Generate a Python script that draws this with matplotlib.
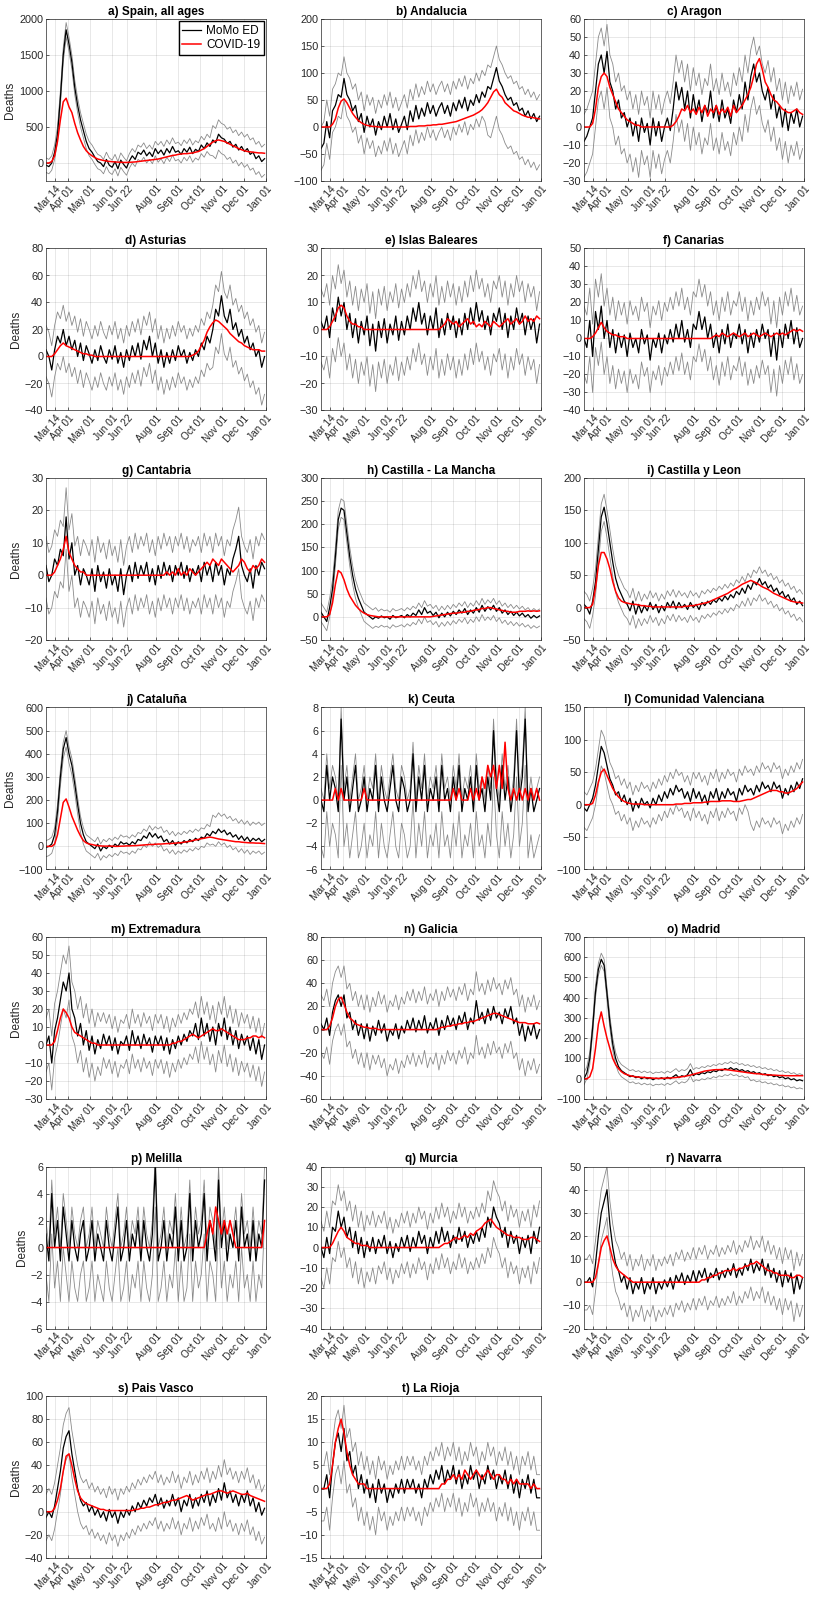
import numpy as np
import matplotlib
matplotlib.use("Agg")
import matplotlib.pyplot as plt

plt.rcParams['font.family'] = ['Liberation Sans', 'DejaVu Sans']

# daily series sampled every 4 days, starting 2020-03-01
start = np.datetime64('2020-03-01')
step_days = 4

tick_dates = np.array(['2020-03-14', '2020-04-01', '2020-05-01', '2020-06-01', '2020-06-22',
                       '2020-08-01', '2020-09-01', '2020-10-01', '2020-11-01', '2020-12-01',
                       '2021-01-01'], dtype='datetime64[D]')
tick_labels = ['Mar 14', 'Apr 01', 'May 01', 'Jun 01', 'Jun 22', 'Aug 01', 'Sep 01',
               'Oct 01', 'Nov 01', 'Dec 01', 'Jan 01']

# a) Spain
spain_ed = [-30, -50, 0, 150, 400, 900, 1500, 1850, 1650, 1400, 1050,
            800, 600, 450, 300, 200, 150, 80, 20, 0, -50, 50,
            -30, -60, 20, -80, 40, -20, -70, 30, 100, 50, 150,
            120, 180, 100, 150, 90, 200, 130, 180, 110, 200,
            140, 230, 150, 170, 120, 200, 150, 220, 130, 190,
            160, 250, 200, 280, 230, 320, 280, 400, 350, 330,
            270, 300, 220, 260, 180, 230, 160, 200, 120, 150,
            60, 100, 20, 60]
spain_covid = [0, 0, 20, 100, 300, 600, 850, 900, 780, 700, 550,
               420, 320, 230, 170, 130, 100, 75, 55, 45, 35, 28,
               22, 18, 15, 12, 10, 8, 8, 10, 12, 15, 20,
               25, 30, 35, 40, 45, 50, 55, 65, 75, 85,
               95, 105, 110, 120, 125, 130, 130, 135, 140, 150,
               160, 180, 200, 230, 260, 290, 310, 320, 310, 300,
               280, 260, 240, 220, 200, 185, 170, 160, 155, 150,
               145, 140, 140, 135]
spain_band = ([100, 100, 120, 220], [100, 100, 120, 200])

# b) Andalucia
andalucia_ed = [-40, -30, 10, -20, 30, 40, 60, 55, 90, 60, 50,
                30, 40, 10, 25, -10, 20, 0, 15, -15, 10, -5,
                20, 0, 25, -5, 15, -10, 5, 20, -5, 30, 10,
                40, 15, 35, 20, 45, 25, 40, 20, 35, 45,
                25, 40, 20, 45, 30, 50, 35, 55, 30, 50,
                40, 60, 45, 65, 55, 75, 70, 90, 110, 85,
                75, 60, 50, 55, 40, 45, 30, 35, 20, 30,
                15, 25, 10, 20]
andalucia_covid = [0, 0, 0, 0, 5, 15, 35, 48, 52, 45, 35,
                   25, 18, 12, 8, 5, 3, 2, 1, 1, 0, 0,
                   0, 0, 0, 0, 0, 0, 0, 0, 0, 1, 1,
                   1, 2, 2, 2, 3, 3, 4, 4, 5, 5,
                   6, 7, 8, 9, 10, 12, 14, 16, 18, 20,
                   22, 25, 28, 32, 38, 45, 55, 65, 70, 60,
                   55, 45, 40, 35, 30, 28, 25, 22, 20, 18,
                   18, 17, 16, 15]
andalucia_band = ([40, 45, 45, 90], [40, 40, 40, 40])

# c) Aragon
aragon_ed = [-8, -5, 0, 5, 20, 35, 40, 30, 42, 25, 20,
             10, 15, 5, 8, 0, 5, -5, 3, -8, 5, -3,
             2, -10, 5, -5, 3, -8, 0, 5, -2, 10, 25,
             15, 22, 10, 20, 5, 18, 8, 15, 3, 12,
             8, 20, 5, 12, 3, 15, 5, 10, 2, 15,
             8, 18, 10, 25, 15, 28, 35, 25, 30, 20,
             15, 22, 10, 18, 5, 12, 0, 10, -2, 8,
             2, 10, 0, 6]
aragon_covid = [0, 0, 0, 2, 10, 22, 28, 30, 28, 22, 18,
                14, 10, 8, 6, 4, 3, 2, 1, 1, 0, 0,
                0, 0, 0, 0, 0, 0, 0, 0, 0, 1, 3,
                6, 10, 9, 12, 8, 10, 7, 11, 8, 12,
                6, 10, 8, 12, 7, 10, 8, 11, 6, 12,
                8, 10, 12, 15, 18, 22, 28, 35, 38, 32,
                25, 22, 18, 15, 14, 12, 10, 9, 8, 8,
                9, 10, 8, 7]
aragon_band = ([20, 18, 18, 18], [15, 15, 15, 15])

# d) Asturias
asturias_ed = [5, 0, -10, 5, 15, 10, 20, 8, 15, 5, 12,
               0, 10, -3, 8, 2, -5, 5, -3, 8, 0, -5,
               5, -2, 8, -5, 3, -8, 5, -3, 8, 0, 10,
               -2, 12, 5, 15, 0, 10, -5, 5, -8, 3,
               -5, 5, -3, 8, 0, 5, -5, 3, -3, 5,
               0, 10, 5, 15, 10, 20, 35, 30, 45, 30,
               25, 35, 20, 25, 15, 20, 10, 15, 5, 10,
               0, 5, -8, 0]
asturias_covid = [0, 0, 0, 2, 5, 8, 10, 8, 7, 6, 5,
                  4, 3, 2, 2, 1, 1, 0, 0, 0, 0, 0,
                  0, 0, 0, 0, 0, 0, 0, 0, 0, 0, 0,
                  0, 0, 0, 0, 0, 0, 0, 0, 0, 0,
                  0, 0, 0, 0, 0, 0, 0, 0, 1, 2,
                  4, 8, 12, 18, 22, 25, 27, 26, 24, 22,
                  20, 17, 15, 13, 11, 10, 8, 7, 6, 5,
                  5, 5, 4, 4]
asturias_band = ([20, 20, 20, 28], [18, 18, 18, 18])

# e) Islas Baleares
baleares_ed = [3, 0, 5, -3, 8, 3, 12, 5, 10, 0, 6,
               -3, 4, -5, 3, -2, 5, -6, 2, -8, 3, -3,
               4, -5, 2, -2, 5, -4, 3, -2, 5, 0, 8,
               3, 10, 2, 6, -2, 5, 0, 8, -3, 4,
               -2, 6, 0, 5, -3, 4, -2, 6, 0, 8,
               2, 10, 3, 7, 0, 5, -2, 6, 3, 8,
               0, 6, -3, 5, 0, 8, 2, 6, -2, 5,
               0, 4, -5, 2]
baleares_covid = [0, 0, 0, 1, 3, 5, 8, 9, 8, 5, 3,
                  2, 2, 1, 1, 0, 0, 0, 0, 0, 0, 0,
                  0, 0, 0, 0, 0, 0, 0, 0, 0, 0, 0,
                  0, 0, 0, 0, 0, 0, 0, 0, 0, 1,
                  2, 4, 3, 2, 3, 1, 2, 3, 4, 2,
                  3, 1, 2, 1, 3, 2, 1, 3, 2, 1,
                  2, 3, 4, 2, 3, 4, 2, 3, 5, 3,
                  4, 3, 5, 4]
baleares_band = ([15, 15, 15, 15], [12, 12, 12, 12])

# f) Canarias
canarias_ed = [0, -5, 10, -10, 15, 5, 18, 0, 10, -5, 5,
               -8, 3, -5, 2, -10, 3, -5, 0, -8, 5, -3,
               2, -12, 0, -5, 3, -8, 2, -3, 5, -2, 8,
               0, 10, -2, 5, -5, 8, 5, 15, 5, 12,
               0, 8, -5, 3, -8, 5, -3, 8, -5, 3,
               0, 8, -3, 5, -8, 3, -5, 5, -2, 8,
               0, 5, -10, 3, -12, 5, -5, 8, 0, 10,
               -3, 6, -5, 0]
canarias_covid = [0, 0, 0, 1, 3, 6, 9, 6, 4, 3, 2,
                  2, 1, 1, 1, 0, 0, 0, 0, 0, 0, 0,
                  0, 0, 0, 0, 0, 0, 0, 0, 0, 0, 0,
                  0, 0, 0, 0, 0, 0, 0, 0, 0, 0,
                  0, 0, 1, 2, 1, 3, 2, 1, 2, 3,
                  2, 1, 2, 3, 1, 2, 3, 2, 1, 2,
                  3, 2, 1, 2, 3, 2, 3, 2, 3, 4,
                  5, 4, 5, 4]
canarias_band = ([20, 18, 18, 20], [18, 18, 18, 18])

# g) Cantabria
cantabria_ed = [3, -2, 0, 5, 3, 8, 6, 18, 5, 10, 0,
                3, -3, 2, 0, -3, 2, -5, 3, -2, 1, -4,
                2, -3, 0, -5, 2, -6, 0, 3, -2, 4, -1,
                3, 0, 4, -2, 2, -3, 3, -1, 4, 0,
                3, -2, 3, 0, 4, -1, 3, -2, 2, 0,
                3, -2, 4, 0, 3, -2, 4, 0, 3, -3,
                2, 0, 5, 8, 12, 3, 0, -2, 2, -4,
                3, 0, 4, 2]
cantabria_covid = [0, 0, 0, 1, 3, 5, 8, 12, 7, 5, 3,
                   2, 1, 1, 0, 0, 0, 0, 0, 0, 0, 0,
                   0, 0, 0, 0, 0, 0, 0, 0, 0, 0, 0,
                   0, 0, 0, 0, 0, 0, 0, 0, 0, 1,
                   0, 1, 0, 2, 0, 1, 0, 2, 1, 0,
                   1, 2, 3, 4, 3, 5, 4, 3, 5, 4,
                   3, 2, 1, 2, 3, 5, 4, 2, 1, 3,
                   2, 3, 5, 4]
cantabria_band = ([10, 10, 10, 10], [9, 9, 9, 9])

# h) Castilla - La Mancha
clm_ed = [10, 0, -10, 20, 60, 130, 210, 235, 230, 180, 130,
          90, 60, 40, 25, 10, 5, 0, -5, 0, -3, 2,
          -2, 0, -5, 3, -2, 0, 3, -2, 5, 0, 8,
          3, 15, 5, 20, 8, 12, 3, 10, -2, 8,
          0, 10, 2, 12, 5, 15, 8, 18, 5, 15,
          8, 20, 10, 25, 12, 22, 15, 25, 12, 20,
          8, 15, 5, 12, 3, 10, 2, 8, 0, 5,
          -3, 3, -2, 2]
clm_covid = [0, 0, 0, 5, 30, 70, 100, 95, 80, 60, 45,
             35, 25, 18, 12, 8, 5, 3, 2, 1, 0, 0,
             0, 0, 0, 0, 0, 0, 0, 0, 0, 0, 0,
             0, 0, 0, 0, 0, 0, 1, 2, 3, 4,
             5, 6, 7, 8, 8, 9, 10, 10, 12, 12,
             14, 15, 16, 18, 18, 20, 20, 18, 17, 15,
             14, 12, 12, 10, 10, 10, 12, 12, 12, 13,
             12, 13, 12, 13]
clm_band = ([20, 20, 20, 22], [20, 15, 15, 15])

# i) Castilla y Leon
cyl_ed = [5, 0, -10, 10, 40, 90, 140, 155, 130, 100, 70,
          45, 30, 20, 10, 5, -5, 10, -10, 5, -8, 3,
          -5, 8, -3, 5, -8, 3, -5, 8, 0, 10, -2,
          8, 0, 5, -3, 8, 0, 5, -3, 8, 3,
          10, 5, 12, 8, 15, 10, 18, 12, 20, 15,
          25, 20, 30, 22, 35, 28, 40, 35, 45, 35,
          40, 30, 35, 25, 30, 20, 25, 15, 20, 10,
          15, 5, 10, 3]
cyl_covid = [0, 0, 0, 5, 30, 65, 85, 85, 75, 60, 40,
             25, 15, 10, 8, 7, 6, 5, 5, 4, 3, 3,
             2, 2, 1, 1, 1, 1, 1, 1, 1, 1, 1,
             1, 1, 2, 2, 3, 3, 4, 5, 6, 7,
             8, 10, 12, 14, 16, 18, 20, 22, 25, 28,
             30, 33, 36, 38, 40, 42, 40, 38, 35, 32,
             30, 28, 25, 22, 20, 18, 16, 14, 12, 10,
             9, 8, 8, 7]
cyl_band = ([22, 20, 20, 25], [20, 18, 18, 18])

# j) Cataluña
cataluna_ed = [-5, 0, 10, 50, 150, 300, 420, 470, 400, 350, 270,
               180, 100, 50, 20, 10, 0, -10, 10, -20, 0, -10,
               5, -5, 10, 0, 20, 10, 15, 5, 20, 10, 30,
               25, 45, 35, 60, 40, 55, 35, 45, 20, 30,
               10, 25, 5, 20, 10, 25, 15, 30, 20, 35,
               25, 40, 35, 55, 45, 65, 55, 75, 60, 70,
               50, 60, 40, 50, 30, 45, 25, 40, 20, 35,
               25, 35, 20, 30]
cataluna_covid = [0, 0, 0, 10, 50, 120, 190, 205, 170, 130, 100,
                  70, 45, 25, 15, 10, 8, 5, 3, 2, 1, 1,
                  1, 1, 0, 0, 1, 1, 2, 2, 3, 3, 4,
                  5, 6, 7, 8, 8, 9, 10, 10, 11, 12,
                  12, 13, 14, 15, 16, 18, 20, 22, 25, 28,
                  30, 33, 35, 38, 40, 38, 35, 32, 30, 28,
                  26, 24, 22, 20, 20, 18, 17, 16, 15, 15,
                  14, 14, 13, 12]
cataluna_band = ([40, 40, 40, 55], [30, 30, 40, 70])

# k) Ceuta
ceuta_ed = [0, -1, 3, 0, 2, 1, -1, 7, 0, 2, -1,
            1, 3, -1, 0, 2, -1, 1, 0, 3, -1, 2,
            0, -1, 1, 3, 0, -1, 2, 1, -1, 0, 4,
            -1, 2, 0, 3, -1, 1, 0, 2, -1, 3,
            0, 1, -1, 2, 0, 3, -1, 1, 0, 2,
            -1, 3, 0, 1, -1, 2, 0, 6, 1, -1,
            3, 0, 2, -1, 1, 6, 0, 2, 7, -1,
            1, -1, 0, 1]
ceuta_covid = [0, 0, 0, 0, 0, 1, 0, 1, 0, 0, 0,
               0, 0, 0, 0, 1, 0, 0, 0, 0, 0, 0,
               0, 0, 0, 0, 0, 0, 0, 0, 0, 0, 0,
               0, 0, 0, 0, 0, 0, 0, 0, 0, 0,
               0, 0, 0, 1, 0, 1, 0, 0, 0, 1,
               0, 1, 0, 2, 1, 3, 2, 3, 1, 3,
               1, 5, 1, 0, 1, 0, 1, 0, 1, 0,
               1, 0, 1, 0]
ceuta_band = ([4, 4, 4, 4], [1, 1, 1, 1])

# l) Comunidad Valenciana
valencia_ed = [-5, -10, 0, 10, 30, 60, 90, 80, 60, 40, 30,
               15, 20, 5, 15, 0, 10, -10, 5, -5, 10, 0,
               5, -5, 10, 0, 15, 5, 20, 10, 25, 15, 30,
               20, 25, 10, 20, 5, 25, 10, 20, 5, 15,
               0, 20, 10, 25, 5, 20, 10, 25, 15, 20,
               5, 25, 15, 30, 20, 25, 15, 30, 20, 35,
               25, 30, 20, 35, 25, 30, 10, 25, 15, 30,
               20, 35, 25, 40]
valencia_covid = [0, 0, 0, 2, 15, 35, 50, 55, 45, 35, 25,
                  18, 12, 8, 5, 3, 2, 1, 1, 1, 1, 0,
                  0, 0, 0, 0, 0, 0, 0, 0, 0, 0, 1,
                  1, 1, 2, 2, 2, 3, 3, 3, 3, 4,
                  4, 5, 5, 5, 5, 6, 6, 6, 6, 5,
                  5, 5, 6, 7, 8, 8, 10, 12, 14, 16,
                  18, 20, 22, 22, 22, 20, 20, 18, 18, 20,
                  22, 25, 30, 35]
valencia_band = ([30, 30, 30, 55], [25, 25, 30, 30])

# m) Extremadura
extremadura_ed = [0, 5, -10, 8, 15, 25, 35, 30, 40, 20, 15,
                  5, 12, 0, 8, -3, 5, -5, 3, -2, 6, 0,
                  5, -3, 4, -5, 2, 0, 5, -3, 8, 0, 5,
                  -2, 6, 0, 4, -4, 5, 0, 5, -3, 4,
                  -5, 3, -2, 5, 0, 6, 2, 8, 5, 12,
                  3, 15, 5, 12, 2, 10, 0, 12, 5, 15,
                  3, 10, 0, 8, -2, 6, 0, 5, -3, 4,
                  -5, 3, -8, 0]
extremadura_covid = [0, 0, 0, 2, 8, 15, 20, 18, 15, 10, 7,
                     6, 5, 4, 3, 2, 1, 1, 0, 0, 0, 0,
                     0, 0, 0, 0, 0, 0, 0, 0, 0, 0, 0,
                     0, 0, 0, 0, 0, 0, 0, 0, 0, 0,
                     0, 1, 1, 2, 2, 3, 4, 5, 6, 5,
                     4, 5, 6, 7, 8, 9, 8, 8, 9, 8,
                     7, 6, 5, 4, 3, 3, 3, 4, 4, 5,
                     5, 4, 5, 4]
extremadura_band = ([15, 13, 13, 15], [15, 12, 12, 12])

# n) Galicia
galicia_ed = [5, 0, 10, -5, 15, 25, 30, 20, 30, 10, 15,
              0, 8, -5, 5, -8, 5, -10, 3, -5, 8, -3,
              5, -10, 0, -5, 5, -8, 3, -3, 8, 0, 10,
              -2, 8, 0, 12, -3, 6, 0, 10, -5, 8,
              0, 12, 3, 10, 0, 12, 5, 15, 0, 10,
              5, 25, 8, 15, 5, 18, 8, 20, 10, 15,
              5, 18, 10, 20, 5, 10, -5, 5, -10, 3,
              -5, 5, -8, 0]
galicia_covid = [0, 0, 0, 3, 10, 20, 26, 28, 22, 15, 10,
                 8, 5, 4, 3, 2, 2, 1, 1, 1, 0, 0,
                 0, 0, 0, 0, 0, 0, 0, 0, 0, 0, 0,
                 0, 0, 0, 0, 0, 0, 0, 0, 1, 2,
                 2, 3, 3, 4, 4, 5, 5, 6, 6, 7,
                 7, 8, 9, 10, 11, 12, 13, 14, 14, 13,
                 12, 11, 10, 9, 8, 7, 6, 6, 6, 5,
                 5, 5, 6, 5]
galicia_band = ([25, 30, 30, 30], [25, 25, 25, 25])

# o) Madrid
madrid_ed = [0, 30, 100, 250, 430, 540, 590, 560, 420, 280, 170,
             100, 60, 40, 30, 20, 10, 15, 5, 10, 0, 8,
             0, 5, -5, 3, 0, 5, -3, 8, 0, 10, 20,
             5, 15, 10, 20, 45, 15, 25, 20, 30, 25,
             35, 30, 40, 35, 45, 40, 50, 45, 55, 45,
             50, 40, 45, 35, 40, 30, 35, 25, 30, 20,
             25, 15, 20, 10, 15, 5, 10, 0, 5, -5,
             0, -10, -5, -10]
madrid_covid = [0, 0, 10, 50, 150, 270, 330, 260, 200, 150, 100,
                70, 50, 35, 25, 20, 15, 12, 10, 8, 7, 6,
                5, 4, 3, 2, 2, 2, 3, 3, 4, 5, 6,
                8, 10, 12, 15, 18, 22, 26, 30, 34, 38,
                40, 42, 44, 45, 45, 46, 45, 44, 42, 40,
                38, 36, 34, 32, 30, 28, 26, 25, 24, 22,
                20, 20, 18, 18, 17, 16, 16, 15, 15, 15,
                15, 15, 15, 15]
madrid_band = ([30, 30, 30, 40], [30, 30, 30, 30])

# p) Melilla
melilla_ed = [1, -1, 4, 0, 2, -1, 3, 1, -1, 2, 0,
              -1, 1, 2, -1, 0, 2, -1, 1, 0, -1, 2,
              0, -1, 1, 3, -1, 0, 2, -1, 1, 0, 2,
              -1, 2, 0, -1, 1, 6, -1, 0, 2, -1,
              1, 0, 3, -1, 2, -1, 0, 4, -1, 2,
              0, 1, 4, -1, 2, 1, -1, 5, 0, 2,
              -1, 1, 0, 2, -1, 3, 0, 1, -1, 2,
              -1, 1, 0, 5]
melilla_covid = [0, 0, 0, 0, 0, 0, 0, 0, 0, 0, 0,
                 0, 0, 0, 0, 0, 0, 0, 0, 0, 0, 0,
                 0, 0, 0, 0, 0, 0, 0, 0, 0, 0, 0,
                 0, 0, 0, 0, 0, 0, 0, 0, 0, 0,
                 0, 0, 0, 0, 0, 0, 0, 0, 0, 0,
                 0, 0, 0, 1, 2, 1, 3, 2, 1, 2,
                 1, 2, 1, 0, 0, 0, 0, 0, 0, 0,
                 0, 0, 0, 2]
melilla_band = ([3, 3, 3, 3], [1, 1, 1, 1])

# q) Murcia
murcia_ed = [0, -5, 5, -3, 10, 8, 18, 10, 15, 5, 10,
             0, 8, -3, 5, -5, 3, -2, 5, -3, 4, 0,
             6, -3, 3, -5, 2, -2, 5, 0, 6, -2, 5,
             0, 8, 2, 6, -3, 5, 0, 8, 2, 10,
             3, 8, 0, 6, 2, 10, 3, 8, 0, 6,
             2, 8, 3, 10, 5, 15, 10, 20, 15, 12,
             5, 10, 0, 8, 2, 6, -3, 5, 0, 6,
             -3, 8, 2, 10]
murcia_covid = [0, 0, 0, 0, 2, 5, 8, 10, 8, 5, 4,
                3, 2, 2, 1, 1, 1, 0, 0, 0, 0, 0,
                0, 0, 0, 0, 0, 0, 0, 0, 0, 0, 0,
                0, 0, 0, 0, 0, 0, 0, 0, 0, 1,
                2, 2, 3, 4, 5, 4, 5, 6, 5, 7,
                6, 8, 9, 10, 12, 13, 14, 12, 10, 9,
                8, 7, 6, 6, 5, 5, 5, 4, 4, 4,
                5, 5, 4, 3]
murcia_band = ([15, 13, 13, 15], [13, 12, 12, 13])

# r) Navarra
navarra_ed = [0, 0, 2, -2, 8, 20, 30, 35, 40, 25, 15,
              8, 5, 0, 3, -3, 2, -5, 0, -3, 2, -5,
              0, -3, 2, -5, 0, -3, 1, -2, 2, -3, 3,
              0, 4, -1, 3, 0, 5, 0, 5, 2, 6,
              0, 4, 2, 6, 1, 5, 2, 6, 3, 8,
              2, 6, 3, 8, 5, 10, 4, 8, 5, 10,
              3, 8, 2, 6, 0, 5, -2, 5, 0, 4,
              -5, 3, -3, 2]
navarra_covid = [0, 0, 0, 0, 2, 8, 15, 18, 20, 15, 10,
                 7, 5, 4, 3, 2, 1, 0, 0, 0, 0, 0,
                 0, 0, 0, 0, 0, 0, 0, 0, 0, 0, 0,
                 0, 0, 0, 0, 0, 0, 0, 0, 1, 1,
                 2, 2, 3, 3, 4, 4, 5, 5, 5, 6,
                 5, 6, 6, 7, 7, 8, 8, 9, 8, 7,
                 6, 5, 5, 4, 4, 3, 3, 3, 3, 2,
                 2, 3, 3, 2]
navarra_band = ([12, 12, 12, 12], [10, 10, 10, 10])

# s) Pais Vasco
vasco_ed = [-5, 0, -5, 5, 20, 35, 55, 65, 70, 50, 35,
            20, 10, 5, 8, 0, 5, -3, 2, -5, 0, -8,
            2, -5, 0, -10, 0, -5, 2, -3, 5, 0, 8,
            3, 10, 5, 12, 8, 15, 5, 12, 3, 10,
            5, 15, 5, 12, 0, 10, 5, 15, 3, 12,
            5, 15, 8, 18, 5, 15, 8, 20, 10, 25,
            12, 18, 8, 15, 5, 15, 8, 18, 5, 12,
            0, 8, -3, 3]
vasco_covid = [0, 0, 0, 3, 10, 20, 35, 48, 50, 40, 28,
               18, 12, 9, 7, 6, 5, 4, 3, 2, 2, 1,
               1, 1, 1, 1, 1, 1, 1, 1, 1, 2, 2,
               3, 3, 4, 4, 5, 6, 6, 7, 8, 8,
               9, 10, 10, 11, 12, 13, 14, 12, 10, 11,
               12, 13, 14, 15, 15, 16, 17, 18, 18, 17,
               16, 17, 18, 17, 16, 15, 15, 16, 14, 13,
               12, 11, 10, 9]
vasco_band = ([20, 20, 20, 25], [20, 20, 20, 20])

# t) La Rioja
rioja_ed = [0, 0, 3, -2, 5, 10, 12, 8, 13, 6, 8,
            3, 5, 0, 3, -1, 2, -2, 1, -3, 2, -1,
            1, -3, 0, -2, 1, -1, 2, -1, 2, 0, 2,
            -1, 1, -2, 2, 0, 3, 1, 4, 2, 5,
            1, 4, 2, 5, 1, 4, 0, 3, 1, 5,
            2, 4, 0, 3, 1, 5, 2, 4, 0, 3,
            1, 4, 0, 3, -1, 2, -2, 2, 0, 3,
            -1, 2, -2, -2]
rioja_covid = [0, 0, 0, 1, 5, 10, 13, 15, 12, 8, 5,
               3, 2, 1, 1, 1, 0, 0, 0, 0, 0, 0,
               0, 0, 0, 0, 0, 0, 0, 0, 0, 0, 0,
               0, 0, 0, 0, 0, 0, 0, 0, 0, 1,
               1, 2, 2, 3, 2, 3, 2, 4, 3, 2,
               3, 4, 3, 2, 3, 4, 3, 2, 3, 3,
               2, 2, 1, 2, 1, 2, 1, 1, 1, 1,
               0, 1, 0, 0]
rioja_band = ([7, 6, 6, 7], [5, 5, 5, 5])

# title, ED, COVID, band, (ymin, ymax, step)
panels = [
    ('a) Spain, all ages', spain_ed, spain_covid, spain_band, (-250, 2000, 500)),
    ('b) Andalucia', andalucia_ed, andalucia_covid, andalucia_band, (-100, 200, 50)),
    ('c) Aragon', aragon_ed, aragon_covid, aragon_band, (-30, 60, 10)),
    ('d) Asturias', asturias_ed, asturias_covid, asturias_band, (-40, 80, 20)),
    ('e) Islas Baleares', baleares_ed, baleares_covid, baleares_band, (-30, 30, 10)),
    ('f) Canarias', canarias_ed, canarias_covid, canarias_band, (-40, 50, 10)),
    ('g) Cantabria', cantabria_ed, cantabria_covid, cantabria_band, (-20, 30, 10)),
    ('h) Castilla - La Mancha', clm_ed, clm_covid, clm_band, (-50, 300, 50)),
    ('i) Castilla y Leon', cyl_ed, cyl_covid, cyl_band, (-50, 200, 50)),
    ('j) Cataluña', cataluna_ed, cataluna_covid, cataluna_band, (-100, 600, 100)),
    ('k) Ceuta', ceuta_ed, ceuta_covid, ceuta_band, (-6, 8, 2)),
    ('l) Comunidad Valenciana', valencia_ed, valencia_covid, valencia_band, (-100, 150, 50)),
    ('m) Extremadura', extremadura_ed, extremadura_covid, extremadura_band, (-30, 60, 10)),
    ('n) Galicia', galicia_ed, galicia_covid, galicia_band, (-60, 80, 20)),
    ('o) Madrid', madrid_ed, madrid_covid, madrid_band, (-100, 700, 100)),
    ('p) Melilla', melilla_ed, melilla_covid, melilla_band, (-6, 6, 2)),
    ('q) Murcia', murcia_ed, murcia_covid, murcia_band, (-40, 40, 10)),
    ('r) Navarra', navarra_ed, navarra_covid, navarra_band, (-20, 50, 10)),
    ('s) Pais Vasco', vasco_ed, vasco_covid, vasco_band, (-40, 100, 20)),
    ('t) La Rioja', rioja_ed, rioja_covid, rioja_band, (-15, 20, 5)),
]

W, H = 813, 1601
fig = plt.figure(figsize=(W / 100, H / 100), dpi=100)
col_left = [46, 321, 584]
ax_w, ax_h = 220, 162
axc = '#262626'

for i, (title, ed, covid, band, (y0, y1, ys)) in enumerate(panels):
    r, c = divmod(i, 3)
    top = 19 + 229.5 * r
    ax = fig.add_axes([col_left[c] / W, 1 - (top + ax_h) / H, ax_w / W, ax_h / H])

    ed = np.array(ed, dtype=float)
    covid = np.array(covid, dtype=float)
    n = len(ed)
    x = start + step_days * np.arange(n)
    xc = start + step_days * np.arange(len(covid))
    idx = np.arange(n)
    lo_gap = np.array(band[0])[idx * len(band[0]) // n]
    hi_gap = np.array(band[1])[idx * len(band[1]) // n]

    ax.plot(x, ed - lo_gap, color='#8a8a8a', lw=0.6)
    ax.plot(x, ed + hi_gap, color='#8a8a8a', lw=0.6)
    h1, = ax.plot(x, ed, color='black', lw=0.9)
    h2, = ax.plot(xc, covid, color='red', lw=1.1)

    ax.set_xlim(np.datetime64('2020-03-01'), np.datetime64('2021-01-01'))
    ax.set_ylim(y0, y1)
    ax.set_yticks(np.arange(y0 if y0 % ys == 0 else y0 + (-y0 % ys), y1 + ys / 2, ys))
    ax.set_xticks(tick_dates)
    ax.set_xticklabels(tick_labels, rotation=48, ha='right', rotation_mode='anchor',
                       fontsize=7.3)
    ax.grid(True, color=axc, alpha=0.15, lw=0.5)
    ax.tick_params(direction='in', length=2.5, width=0.5, colors=axc, pad=2)
    ax.tick_params(axis='y', labelsize=7.8)
    for s in ax.spines.values():
        s.set_linewidth(0.5)
        s.set_color(axc)
    ax.set_title(title, fontsize=8.5, fontweight='bold', pad=3)
    if c == 0:
        ax.set_ylabel('Deaths', fontsize=8.5, color=axc, labelpad=2)
    if i == 0:
        ax.legend([h1, h2], ['MoMo ED', 'COVID-19'], loc='upper right', fontsize=8.5,
                  fancybox=False, edgecolor='black', framealpha=1, handlelength=1.6,
                  borderpad=0.3, labelspacing=0.2, handletextpad=0.4, borderaxespad=0.2)

fig.savefig('out.png', dpi=100)
